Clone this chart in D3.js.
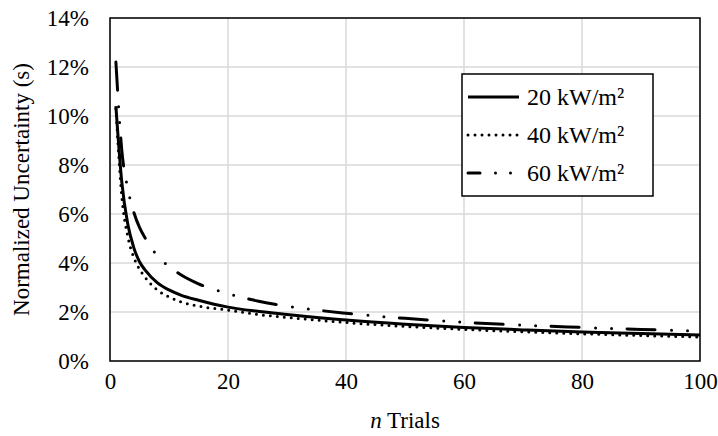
<!DOCTYPE html>
<html>
<head>
<meta charset="utf-8">
<script src="https://cdn.jsdelivr.net/npm/d3@7/dist/d3.min.js"></script>
<style>
  body { margin: 0; background: #fff; }
  svg text { font-family: "Liberation Serif", "Times New Roman", serif; fill: #000; }
</style>
</head>
<body>
<svg id="chart" width="718" height="436"></svg>
<script>
// values (percent)
var trials = [1, 2, 3, 4, 5, 6, 8, 10, 12, 15, 20, 25, 30, 40, 50, 60, 70, 80, 90, 100];
var kw20 = [10.4, 7.3, 5.6, 4.65, 4.05, 3.7, 3.2, 2.9, 2.69, 2.48, 2.2, 2.03, 1.9, 1.67, 1.5, 1.37, 1.27, 1.18, 1.12, 1.06];
var kw40 = [10.3, 6.7, 5.1, 4.25, 3.75, 3.4, 2.9, 2.62, 2.42, 2.24, 2.08, 1.9, 1.78, 1.57, 1.41, 1.29, 1.19, 1.11, 1.04, 0.98];
var kw60 = [12.2, 8.6, 7.05, 6.1, 5.45, 5.0, 4.3, 3.86, 3.52, 3.15, 2.75, 2.45, 2.24, 1.95, 1.74, 1.58, 1.46, 1.37, 1.29, 1.22];

var seriesNames = ["20 kW/m\u00B2", "40 kW/m\u00B2", "60 kW/m\u00B2"];
var xTicks = [0, 20, 40, 60, 80, 100];
var yTicks = [0, 2, 4, 6, 8, 10, 12, 14];

var svg = d3.select("#chart");

var pLeft = 110, pRight = 700, pTop = 18, pBottom = 361;
var fontSize = "23px";

var x = d3.scaleLinear().domain([0, 100]).range([pLeft, pRight]);
var y = d3.scaleLinear().domain([0, 14]).range([pBottom, pTop]);

// gridlines
svg.append("g").selectAll("line").data(yTicks).enter().append("line")
	.attr("x1", pLeft).attr("x2", pRight)
	.attr("y1", function(d){ return y(d); }).attr("y2", function(d){ return y(d); })
	.style("stroke", "#d9d9d9").style("stroke-width", 1.5);

svg.append("g").selectAll("line").data(xTicks).enter().append("line")
	.attr("y1", pTop).attr("y2", pBottom)
	.attr("x1", function(d){ return x(d); }).attr("x2", function(d){ return x(d); })
	.style("stroke", "#d9d9d9").style("stroke-width", 1.5);

// axes (labels only, frame drawn separately)
var xAxis = d3.axisBottom(x).tickValues(xTicks).tickSize(0).tickPadding(12);
var gx = svg.append("g").attr("transform", "translate(0," + pBottom + ")").call(xAxis);
gx.select(".domain").remove();
gx.selectAll("text").style("font-size", fontSize).style("font-family", "Liberation Serif");

var yAxis = d3.axisLeft(y).tickValues(yTicks).tickSize(0).tickPadding(21)
	.tickFormat(function(d){ return d + "%"; });
var gy = svg.append("g").attr("transform", "translate(" + pLeft + ",0)").call(yAxis);
gy.select(".domain").remove();
gy.selectAll("text").style("font-size", fontSize).style("font-family", "Liberation Serif");

// plot frame
svg.append("rect")
	.attr("x", pLeft).attr("y", pTop)
	.attr("width", pRight - pLeft).attr("height", pBottom - pTop)
	.style("fill", "none").style("stroke", "#000").style("stroke-width", 1.5);

// lines
var styles = [
	{ dash: null, cap: "butt" },
	{ dash: "0 7", cap: "round" },
	{ dash: "28 16.5 0 16 0 15.5", cap: "round" }
];
var allSeries = [kw20, kw40, kw60];

var line = d3.line()
	.x(function(d, i){ return x(trials[i]); })
	.y(function(d){ return y(d); })
	.curve(d3.curveMonotoneX);

svg.append("g").selectAll("path").data(allSeries).enter().append("path")
	.attr("d", line)
	.style("fill", "none")
	.style("stroke", "#000")
	.style("stroke-width", 3)
	.style("stroke-linecap", function(d, i){ return styles[i].cap; })
	.style("stroke-dasharray", function(d, i){ return styles[i].dash; });

// legend
var lg = svg.append("g");
lg.append("rect")
	.attr("x", 462).attr("y", 74).attr("width", 191).attr("height", 122)
	.style("fill", "#fff").style("stroke", "#000").style("stroke-width", 1.5);

var rows = lg.selectAll("g").data(seriesNames).enter().append("g")
	.attr("transform", function(d, i){ return "translate(0," + (97 + i * 38) + ")"; });

rows.append("line")
	.attr("x1", 468).attr("x2", 519).attr("y1", 0).attr("y2", 0)
	.style("stroke", "#000").style("stroke-width", 3)
	.style("stroke-linecap", function(d, i){ return styles[i].cap; })
	.style("stroke-dasharray", function(d, i){ return i === 2 ? "12 15.5 0 15 0 20" : styles[i].dash; });

rows.append("text")
	.attr("x", 527).attr("dy", "0.35em")
	.style("font-size", "24px")
	.text(function(d){ return d; });

// axis titles
var xt = svg.append("text")
	.attr("x", (pLeft + pRight) / 2).attr("y", 428)
	.attr("text-anchor", "middle")
	.style("font-size", fontSize);
xt.append("tspan").style("font-style", "italic").text("n");
xt.append("tspan").text(" Trials");

svg.append("text")
	.attr("transform", "translate(29," + ((pTop + pBottom) / 2) + ") rotate(-90)")
	.attr("text-anchor", "middle")
	.style("font-size", fontSize)
	.text("Normalized Uncertainty (s)");
</script>
</body>
</html>
